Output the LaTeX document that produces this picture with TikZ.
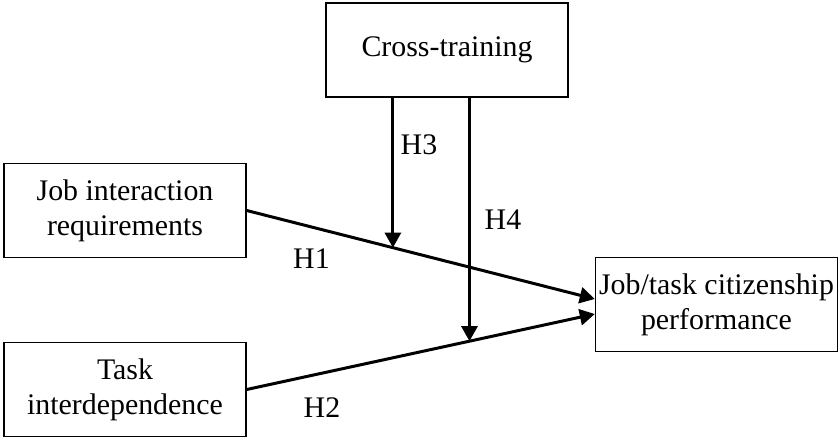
\documentclass[tikz,border=0pt]{standalone}
\usepackage{fontspec}
\setmainfont{Liberation Serif}
\usetikzlibrary{arrows.meta}

\begin{document}
\begin{tikzpicture}[
    box/.style={draw, line width=0.8pt, minimum width=4.84cm, minimum height=1.88cm,
                align=center, inner sep=0pt, font=\fontsize{17}{20}\selectfont},
    hyp/.style={font=\fontsize{17}{20}\selectfont},
    arr/.style={line width=1.7pt, -{Triangle[length=0.3cm, width=0.32cm]}}
  ]
  \useasboundingbox (0,0) rectangle (16.76,-8.74);

  % Boxes
  \node[box] (cross) at (8.94,-1.00) {Cross-training};
  \node[box] (jir)   at (2.50,-4.21) {Job interaction\\requirements};
  \node[box] (jtc)   at (14.33,-6.09) {Job/task citizenship\\performance};
  \node[box] (task)  at (2.50,-7.79) {Task\\interdependence};

  % Direct effects
  \draw[arr] (jir.east) -- coordinate[pos=0.42] (m1) ([yshift=0.11cm]jtc.west);
  \draw[arr] (task.east) -- coordinate[pos=0.64] (m2) ([yshift=-0.19cm]jtc.west);

  % Moderation by cross-training
  \draw[arr] (cross.south -| m1) -- (m1);
  \draw[arr] (cross.south -| m2) -- (m2);

  % Hypothesis labels
  \node[hyp] (h1) at (6.23,-5.18) {H1};
  \node[hyp] (h2) at (6.44,-8.15) {H2};
  \node[hyp] (h3) at (8.38,-2.90) {H3};
  \node[hyp] (h4) at (10.06,-4.40) {H4};
\end{tikzpicture}
\end{document}
